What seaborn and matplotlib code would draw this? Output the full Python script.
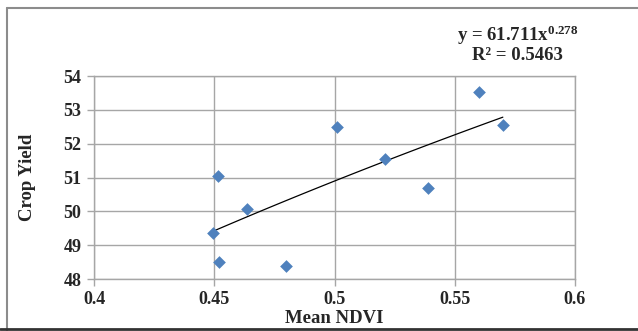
import numpy as np
import pandas as pd
import matplotlib
matplotlib.use("Agg")
import matplotlib.pyplot as plt
import seaborn as sns
from matplotlib.lines import Line2D

# values
mean_ndvi = [0.560, 0.570, 0.501, 0.521, 0.539, 0.4515, 0.4635, 0.4495, 0.452, 0.480]
crop_yield = [53.52, 52.55, 52.48, 51.54, 50.68, 51.03, 50.08, 49.37, 48.49, 48.38]
# power trendline from the chart's equation
coef_a = 61.711
coef_b = 0.278
r_squared = 0.5463

x_ticks = [0.4, 0.45, 0.5, 0.55, 0.6]
x_tick_labels = ["0.4", "0.45", "0.5", "0.55", "0.6"]
y_ticks = [48, 49, 50, 51, 52, 53, 54]

df = pd.DataFrame({"Mean NDVI": mean_ndvi, "Crop Yield": crop_yield})

sns.set_theme(style="white")
plt.rcParams["font.family"] = ["Liberation Serif", "DejaVu Serif"]
plt.rcParams["font.weight"] = "bold"
plt.rcParams["mathtext.fontset"] = "custom"
plt.rcParams["mathtext.rm"] = "Liberation Serif:bold"
plt.rcParams["mathtext.bf"] = "Liberation Serif:bold"
plt.rcParams["mathtext.default"] = "rm"

fig = plt.figure(figsize=(6.38, 3.31), dpi=100)
ax = fig.add_axes([94 / 638, 1 - 279 / 331, (575 - 94) / 638, (279 - 76) / 331])

grid_col = "#a6a6a6"
sns.scatterplot(data=df, x="Mean NDVI", y="Crop Yield", ax=ax, marker="D",
                s=42, color="#4f81bd", linewidth=0, zorder=3)

# trendline over the data range
tx = np.linspace(min(mean_ndvi), max(mean_ndvi), 50)
ax.plot(tx, coef_a * tx ** coef_b, color="black", lw=0.9, zorder=2)

ax.set_xlim(0.4, 0.6)
ax.set_ylim(48, 54)
ax.set_xticks(x_ticks)
ax.set_xticklabels(x_tick_labels)
ax.set_yticks(y_ticks)
ax.grid(True, color=grid_col, lw=1)
for sp in ax.spines.values():
    sp.set_color(grid_col)
    sp.set_linewidth(1)
ax.tick_params(axis="both", which="major", labelsize=13, length=5, width=1,
               color=grid_col, direction="out", pad=4, left=True, bottom=True)
for lab in ax.get_xticklabels() + ax.get_yticklabels():
    lab.set_fontweight("bold")

ax.set_xlabel("Mean NDVI", fontsize=13.5, fontweight="bold", labelpad=1)
ax.set_ylabel("Crop Yield", fontsize=13.5, fontweight="bold", labelpad=20)

fig.text(518 / 638, 1 - 35 / 331,
         "y = %.3fx$^{%.3f}$" % (coef_a, coef_b),
         ha="center", va="center", fontsize=13.5, fontweight="bold")
fig.text(517 / 638, 1 - 55 / 331, "R² = %.4f" % r_squared,
         ha="center", va="center", fontsize=13.5, fontweight="bold")

# chart frame
fig.add_artist(Line2D([7 / 638, 7 / 638], [1 - 8 / 331, 0], color="#8c8c8c", lw=1.5,
                      transform=fig.transFigure))
fig.add_artist(Line2D([7 / 638, 1], [1 - 8 / 331, 1 - 8 / 331], color="#8c8c8c", lw=1.5,
                      transform=fig.transFigure))
fig.add_artist(Line2D([0, 1], [1 - 329 / 331, 1 - 329 / 331], color="#333333", lw=2,
                      transform=fig.transFigure))

fig.savefig("out.png", dpi=100)
